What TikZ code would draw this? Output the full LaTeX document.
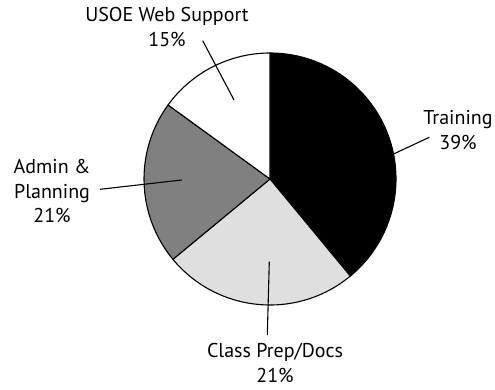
\documentclass[tikz,border=0pt]{standalone}
\usepackage{fontspec}
\setmainfont{PT Sans}
\begin{document}
\begin{tikzpicture}[x=1pt,y=1pt,
  slice/.style={draw=black,line width=1.1pt,line join=round},
  leader/.style={draw=black,line width=1.1pt},
  lbl/.style={align=center,inner sep=0pt,font=\fontsize{20}{24.5}\selectfont}]
\useasboundingbox (0,0) rectangle (495,389);
\coordinate (c) at (270,210);
\def\R{126}
% pie slices, clockwise from the top
\filldraw[slice,fill=black]      (c) -- ++(90:\R)    arc[start angle=90,   end angle=-50.4, radius=\R] -- cycle;
\filldraw[slice,fill=gray!25]    (c) -- ++(-50.4:\R) arc[start angle=-50.4,end angle=-140.4,radius=\R] -- cycle;
\filldraw[slice,fill=gray]       (c) -- ++(219.6:\R) arc[start angle=219.6,end angle=144,  radius=\R] -- cycle;
\filldraw[slice,fill=white]      (c) -- ++(144:\R)   arc[start angle=144,  end angle=90,   radius=\R] -- cycle;
% labels
\node[lbl] (usoe)  at (167,362) {USOE Web Support\\15\%};
\node[lbl] (admin) at (52,198)  {Admin \&\\Planning\\21\%};
\node[lbl] (train) at (458,259) {Training\\39\%};
\node[lbl] (prep)  at (275,26)  {Class Prep/Docs\\21\%};
% leader lines
\coordinate (usoeA) at (202.7,348.3); \coordinate (usoeB) at (234,289);
\coordinate (adminA) at (100,199.7);  \coordinate (adminB) at (181.7,209);
\coordinate (trainA) at (429.3,251.7);\coordinate (trainB) at (370,224);
\coordinate (prepA) at (267.3,54);    \coordinate (prepB) at (269.3,127.3);
\draw[leader] (usoeA) -- (usoeB);
\draw[leader] (adminA) -- (adminB);
\draw[leader] (trainA) -- (trainB);
\draw[leader] (prepA) -- (prepB);
\end{tikzpicture}
\end{document}
